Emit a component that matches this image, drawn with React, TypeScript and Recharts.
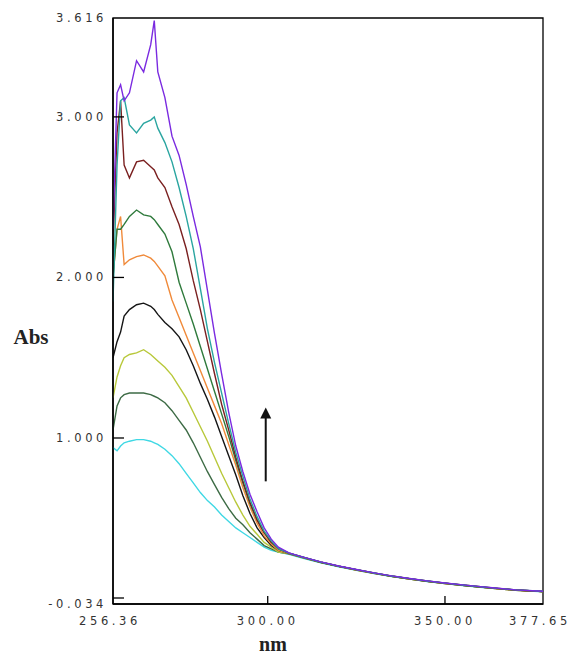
import { LineChart, Line, XAxis, YAxis, ReferenceArea, ReferenceLine } from "recharts"

// wavelength grid (nm)
const nm = [
  256.36, 257.5, 258.5, 259.5, 261, 263, 265, 267, 268, 269, 271, 273, 275, 277, 279, 281, 283,
  285, 287, 289, 291, 293, 295, 297, 299, 301, 303, 306, 310, 315, 320, 325, 330, 335, 340, 345,
  350, 355, 360, 365, 370, 377.65,
]

// absorbance, lowest spectrum first
const cyanAbs = [
  0.94, 0.92, 0.95, 0.97, 0.98, 0.99, 0.99, 0.98, 0.97, 0.96, 0.93, 0.89, 0.84, 0.78, 0.72, 0.66,
  0.61, 0.57, 0.52, 0.48, 0.44, 0.41, 0.38, 0.35, 0.32, 0.3, 0.29,
  0.275, 0.25, 0.222, 0.198, 0.176, 0.155, 0.137, 0.121, 0.106, 0.093, 0.081, 0.07, 0.06, 0.051, 0.042,
]
const darkGreenAbs = [
  1.05, 1.2, 1.25, 1.27, 1.28, 1.28, 1.28, 1.27, 1.26, 1.25, 1.22, 1.17, 1.11, 1.05, 0.97, 0.88,
  0.79, 0.71, 0.63, 0.56, 0.5, 0.46, 0.41, 0.37, 0.33, 0.31, 0.29,
  0.278, 0.253, 0.224, 0.2, 0.178, 0.157, 0.138, 0.122, 0.107, 0.094, 0.082, 0.071, 0.061, 0.052, 0.043,
]
const yellowAbs = [
  1.25, 1.38, 1.45, 1.5, 1.52, 1.53, 1.55, 1.52, 1.5, 1.48, 1.44, 1.39, 1.32, 1.25, 1.16, 1.07,
  0.98, 0.88, 0.78, 0.69, 0.6, 0.52, 0.45, 0.4, 0.35, 0.32, 0.29,
  0.28, 0.255, 0.225, 0.2, 0.178, 0.157, 0.138, 0.122, 0.107, 0.094, 0.082, 0.071, 0.061, 0.052, 0.043,
]
const blackAbs = [
  1.5, 1.6, 1.66, 1.76, 1.8, 1.83, 1.84, 1.82, 1.8, 1.77, 1.72, 1.68, 1.63, 1.55, 1.45, 1.34,
  1.24, 1.13, 1.01, 0.89, 0.77, 0.64, 0.53, 0.44, 0.38, 0.33, 0.3,
  0.28, 0.256, 0.226, 0.201, 0.179, 0.158, 0.139, 0.123, 0.108, 0.095, 0.083, 0.072, 0.062, 0.053, 0.044,
]
const orangeAbs = [
  2.0, 2.3, 2.38, 2.08, 2.11, 2.13, 2.14, 2.12, 2.1, 2.07, 2.01, 1.86, 1.75, 1.64, 1.53, 1.42,
  1.31, 1.2, 1.09, 0.96, 0.83, 0.69, 0.57, 0.47, 0.39, 0.34, 0.3,
  0.28, 0.255, 0.225, 0.2, 0.178, 0.157, 0.138, 0.122, 0.107, 0.094, 0.082, 0.071, 0.061, 0.052, 0.043,
]
const greenAbs = [
  2.0, 2.3, 2.3, 2.33, 2.38, 2.42, 2.39, 2.38, 2.36, 2.33, 2.27, 2.16, 1.97, 1.84, 1.71, 1.57,
  1.43, 1.29, 1.15, 1.01, 0.86, 0.72, 0.59, 0.49, 0.41, 0.35, 0.31,
  0.282, 0.256, 0.226, 0.201, 0.179, 0.158, 0.139, 0.123, 0.108, 0.095, 0.083, 0.072, 0.062, 0.053, 0.044,
]
const brownAbs = [
  2.2, 2.9, 3.1, 2.7, 2.62, 2.72, 2.73, 2.69, 2.67, 2.62, 2.56, 2.44, 2.33, 2.18, 1.98, 1.8,
  1.6, 1.4, 1.21, 1.05, 0.88, 0.73, 0.6, 0.49, 0.41, 0.35, 0.31,
  0.283, 0.257, 0.227, 0.202, 0.18, 0.159, 0.14, 0.124, 0.109, 0.096, 0.084, 0.073, 0.063, 0.053, 0.044,
]
const tealAbs = [
  1.85, 2.7, 3.1, 3.12, 2.95, 2.9, 2.96, 2.98, 3.0, 2.93, 2.84, 2.72, 2.56, 2.38, 2.18, 1.93,
  1.68, 1.47, 1.28, 1.09, 0.91, 0.76, 0.62, 0.51, 0.42, 0.36, 0.31,
  0.283, 0.257, 0.227, 0.202, 0.18, 0.159, 0.14, 0.124, 0.109, 0.096, 0.084, 0.073, 0.063, 0.054, 0.045,
]
const purpleAbs = [
  2.3, 3.15, 3.2, 3.1, 3.15, 3.35, 3.28, 3.45, 3.6, 3.28, 3.12, 2.88, 2.76, 2.58, 2.38, 2.19,
  1.92, 1.65, 1.4, 1.16, 0.95, 0.79, 0.65, 0.54, 0.44, 0.37, 0.32,
  0.284, 0.258, 0.228, 0.203, 0.181, 0.16, 0.141, 0.125, 0.11, 0.097, 0.085, 0.074, 0.064, 0.054, 0.045,
]

const xTicks = [256.36, 300, 350, 377.65]
const yTicks = [-0.034, 1, 2, 3, 3.616]

const series = [
  { key: "cyan", color: "#3fd8e4", values: cyanAbs },
  { key: "darkGreen", color: "#3d6b45", values: darkGreenAbs },
  { key: "yellow", color: "#b8c83a", values: yellowAbs },
  { key: "black", color: "#151515", values: blackAbs },
  { key: "orange", color: "#f08a3a", values: orangeAbs },
  { key: "green", color: "#2f7a3c", values: greenAbs },
  { key: "brown", color: "#7a2020", values: brownAbs },
  { key: "teal", color: "#2aa5a0", values: tealAbs },
  { key: "purple", color: "#7a2ae0", values: purpleAbs },
]

const data = nm.map((x, i) => {
  const row: Record<string, number> = { nm: x }
  series.forEach((s) => (row[s.key] = s.values[i]))
  return row
})

const tickFont = { fontFamily: "DejaVu Sans", fontSize: 11.5, letterSpacing: 3.6, fill: "#333" }

function XTick({ x, y, payload }: any) {
  const v = payload.value
  const edge = v === 256.36 || v === 377.65
  const label = v.toFixed(2)
  return (
    <g>
      {!edge && <line x1={x} y1={y} x2={x} y2={y - 8} stroke="#000" strokeWidth={1.3} />}
      <text x={x + (edge ? -3 : 0)} y={y + 21} textAnchor="middle" {...tickFont}>
        {label}
      </text>
    </g>
  )
}

function YTick({ x, y, payload }: any) {
  const v = payload.value
  const top = v === 3.616
  const label = v.toFixed(3)
  return (
    <g>
      {!top && <line x1={x} y1={y - (v < 0 ? 6 : 0)} x2={x + 11} y2={y - (v < 0 ? 6 : 0)} stroke="#000" strokeWidth={1.3} />}
      <text x={x - 6} y={y + 4} textAnchor="end" {...tickFont}>
        {label}
      </text>
    </g>
  )
}

function Arrow(p: any) {
  const { x1, y1, x2, y2 } = p
  return (
    <g>
      <line x1={x1} y1={y1} x2={x2} y2={y2 + 9} stroke="#111" strokeWidth={2} />
      <polygon points={`${x2},${y2} ${x2 - 5.5},${y2 + 11} ${x2 + 5.5},${y2 + 11}`} fill="#111" />
    </g>
  )
}

export default function App() {
  return (
    <div style={{ position: "absolute", left: 0, top: 0, width: 574, height: 659, background: "#fff" }}>
      <LineChart width={574} height={659} data={data} margin={{ top: 18, right: 31, bottom: 0, left: 0 }}>
        <XAxis
          dataKey="nm"
          type="number"
          domain={[256.36, 377.65]}
          ticks={xTicks}
          interval={0}
          allowDataOverflow
          height={55}
          tickSize={0}
          tickMargin={0}
          tickLine={false}
          axisLine={{ stroke: "#000", strokeWidth: 1.5 }}
          tick={<XTick />}
        />
        <YAxis
          type="number"
          domain={[-0.034, 3.616]}
          ticks={yTicks}
          interval={0}
          allowDataOverflow
          width={113}
          tickSize={0}
          tickMargin={0}
          tickLine={false}
          axisLine={{ stroke: "#000", strokeWidth: 1.5 }}
          tick={<YTick />}
        />
        <ReferenceArea x1={256.36} x2={377.65} y1={-0.034} y2={3.616} fill="none" stroke="#000" strokeWidth={1.3} />
        {series.map((s) => (
          <Line
            key={s.key}
            dataKey={s.key}
            stroke={s.color}
            strokeWidth={1.4}
            dot={false}
            type="linear"
            isAnimationActive={false}
          />
        ))}
        <ReferenceLine
          segment={[
            { x: 299.44, y: 0.73 },
            { x: 299.44, y: 1.19 },
          ]}
          shape={<Arrow />}
        />
      </LineChart>
      <svg width={574} height={659} style={{ position: "absolute", left: 0, top: 0, pointerEvents: "none" }}>
        <text x={31} y={344} textAnchor="middle" fontFamily="Liberation Serif" fontWeight="bold" fontSize={21} fill="#222">
          Abs
        </text>
        <text x={273} y={651} textAnchor="middle" fontFamily="Liberation Serif" fontWeight="bold" fontSize={20} fill="#222">
          nm
        </text>
      </svg>
    </div>
  )
}
